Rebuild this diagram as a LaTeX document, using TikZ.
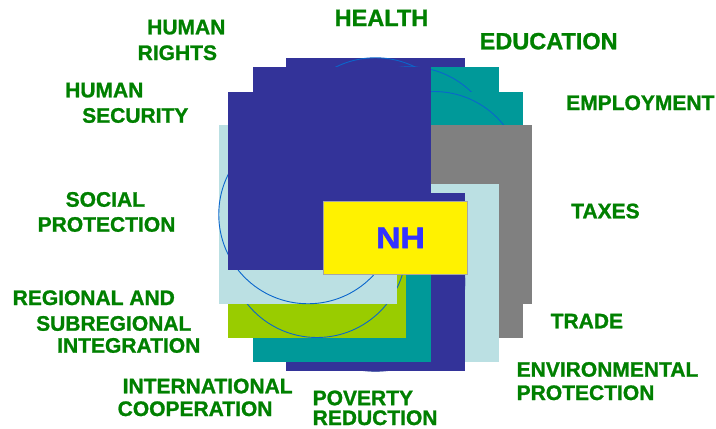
\documentclass[tikz,border=0pt]{standalone}
\usepackage{fontspec}
\setmainfont{Liberation Sans}
\newfontfamily\labfont{Liberation Sans Bold}[FakeBold=1.1]
\newfontfamily\nhfontfam{Liberation Sans Bold}[FakeBold=1.8,FakeStretch=1.12]
\definecolor{navyc}{HTML}{333399}
\definecolor{tealc}{HTML}{009999}
\definecolor{grayc}{HTML}{808080}
\definecolor{lbluec}{HTML}{BBE0E3}
\definecolor{ygreenc}{HTML}{99CC00}
\definecolor{labgreen}{HTML}{008000}
\definecolor{circc}{HTML}{0A66CC}
\definecolor{pcircc}{HTML}{5A6AB0}
\definecolor{nhblue}{HTML}{3333FF}
\tikzset{
  lab/.style={anchor=base west, inner sep=0pt, text=labgreen, font=\labfont\fontsize{21}{25}\selectfont},
  labbig/.style={lab, font=\labfont\fontsize{23.5}{28}\selectfont},
  circ/.style={draw=circc, line width=0.9pt},
  pcirc/.style={draw=pcircc, line width=1.2pt},
  nhbox/.style={draw=black!35, line width=0.6pt, fill=yellow, minimum width=144.4pt, minimum height=72.3pt, inner sep=0pt, text=nhblue, font=\nhfontfam\fontsize{30}{34}\selectfont}
}
\begin{document}
\begin{tikzpicture}[x=1pt,y=-1pt]
\useasboundingbox (0,0) rectangle (716,429);
\fill[white] (0,0) rectangle (716,429);
% twelve squares around the centre, drawn clockwise from the top
\foreach \i/\col/\cf in {0/navyc/1, 1/tealc/1, 2/tealc/1, 3/grayc/0, 4/grayc/0, 5/lbluec/0, 6/navyc/2, 7/tealc/0, 8/ygreenc/1, 9/lbluec/1, 10/navyc/0, 11/navyc/0}{
  \pgfmathsetmacro\cx{375.5+67.5*sin(30*\i)}
  \pgfmathsetmacro\cy{214.5-67.5*cos(30*\i)}
  \ifnum\cf=2 \draw[pcirc] (\cx,\cy) circle (89.25pt); \fi
  \fill[\col] (\cx-89.25,\cy-89.25) rectangle (\cx+89.25,\cy+89.25);
  \ifnum\cf=1 \draw[circ] (\cx,\cy) circle (89.25pt); \fi
}
\node[nhbox] (nh) at (395.5,237.9) {\hspace*{10pt}NH};
% labels
\node[labbig] (health) at (334.5,26) {HEALTH};
\node[labbig] (educ) at (479.5,49.3) {EDUCATION};
\node[lab] (empl) at (566,110) {EMPLOYMENT};
\node[lab] (taxes) at (571,218.3) {TAXES};
\node[lab] (trade) at (550.5,328.3) {TRADE};
\node[lab] (env1) at (516.5,376.7) {ENVIRONMENTAL};
\node[lab] (env2) at (516.5,400) {PROTECTION};
\node[lab] (pov1) at (312.5,405.2) {POVERTY};
\node[lab] (pov2) at (312.5,425) {REDUCTION};
\node[lab] (int1) at (122.5,393.3) {INTERNATIONAL};
\node[lab] (int2) at (117.5,416) {COOPERATION};
\node[lab] (reg1) at (12.5,305) {REGIONAL AND};
\node[lab] (reg2) at (36,330.7) {SUBREGIONAL};
\node[lab] (reg3) at (57,352.7) {INTEGRATION};
\node[lab] (soc1) at (65.5,206.7) {SOCIAL};
\node[lab] (soc2) at (37.5,231.7) {PROTECTION};
\node[lab] (hs1) at (65,97.3) {HUMAN};
\node[lab] (hs2) at (82,122.7) {SECURITY};
\node[lab] (hr1) at (147,34.3) {HUMAN};
\node[lab] (hr2) at (137.5,60) {RIGHTS};
\end{tikzpicture}
\end{document}
